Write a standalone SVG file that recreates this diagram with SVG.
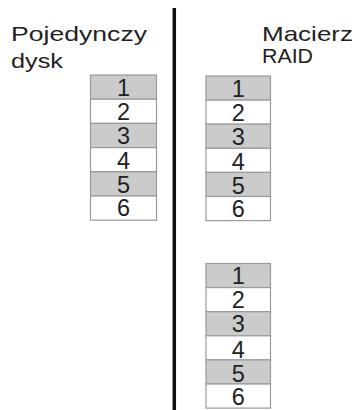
<svg xmlns="http://www.w3.org/2000/svg" width="355" height="410" viewBox="0 0 355 410">
<style>
.t{font-family:"Liberation Sans",Arial,sans-serif;font-size:21px;fill:#222}
.d{font-family:"Liberation Sans",Arial,sans-serif;font-size:23.5px;fill:#222;text-anchor:middle}
.g{fill:#cbcbcb;stroke:#9a9a9a;stroke-width:1.2}
.w{fill:#fff;stroke:#9a9a9a;stroke-width:1.2}
</style>
<rect width="355" height="410" fill="#fff"/>
<g id="divider"><line x1="174.3" y1="8" x2="174.3" y2="410" stroke="#111" stroke-width="3.5"/></g>
<g id="title-single">
<text class="t" x="11" y="41" textLength="136" lengthAdjust="spacingAndGlyphs">Pojedynczy</text>
<text class="t" x="11" y="68" textLength="52" lengthAdjust="spacingAndGlyphs">dysk</text>
</g>
<g id="title-raid">
<text class="t" x="262" y="41" textLength="91" lengthAdjust="spacingAndGlyphs">Macierz</text>
<text class="t" x="262" y="63" textLength="51" lengthAdjust="spacingAndGlyphs">RAID</text>
</g>
<g id="disk-single" transform="translate(90.5,75)">
<rect class="g" x="0" y="0" width="66" height="24.2"/>
<rect class="w" x="0" y="24.2" width="66" height="24.2"/>
<rect class="g" x="0" y="48.4" width="66" height="24.2"/>
<rect class="w" x="0" y="72.6" width="66" height="24.2"/>
<rect class="g" x="0" y="96.8" width="66" height="24.2"/>
<rect class="w" x="0" y="121" width="66" height="24.2"/>
<text class="d" x="33" y="20.5">1</text>
<text class="d" x="33" y="44.9">2</text>
<text class="d" x="33" y="68.5">3</text>
<text class="d" x="33" y="94.3">4</text>
<text class="d" x="33" y="118.3">5</text>
<text class="d" x="33" y="141">6</text>
</g>
<g id="disk-raid-1" transform="translate(206,76)">
<rect class="g" x="0" y="0" width="64.5" height="24.1"/>
<rect class="w" x="0" y="24.1" width="64.5" height="24.1"/>
<rect class="g" x="0" y="48.2" width="64.5" height="24.1"/>
<rect class="w" x="0" y="72.3" width="64.5" height="24.1"/>
<rect class="g" x="0" y="96.4" width="64.5" height="24.1"/>
<rect class="w" x="0" y="120.5" width="64.5" height="24.1"/>
<text class="d" x="32.2" y="20.5">1</text>
<text class="d" x="32.2" y="44.7">2</text>
<text class="d" x="32.2" y="68.5">3</text>
<text class="d" x="32.2" y="94">4</text>
<text class="d" x="32.2" y="118">5</text>
<text class="d" x="32.2" y="141">6</text>
</g>
<g id="disk-raid-2" transform="translate(206,263.5)">
<rect class="g" x="0" y="0" width="64.5" height="24.1"/>
<rect class="w" x="0" y="24.1" width="64.5" height="24.1"/>
<rect class="g" x="0" y="48.2" width="64.5" height="24.1"/>
<rect class="w" x="0" y="72.3" width="64.5" height="24.1"/>
<rect class="g" x="0" y="96.4" width="64.5" height="24.1"/>
<rect class="w" x="0" y="120.5" width="64.5" height="24.1"/>
<text class="d" x="32.2" y="20.5">1</text>
<text class="d" x="32.2" y="44.7">2</text>
<text class="d" x="32.2" y="68.5">3</text>
<text class="d" x="32.2" y="94">4</text>
<text class="d" x="32.2" y="118">5</text>
<text class="d" x="32.2" y="141">6</text>
</g>
</svg>
